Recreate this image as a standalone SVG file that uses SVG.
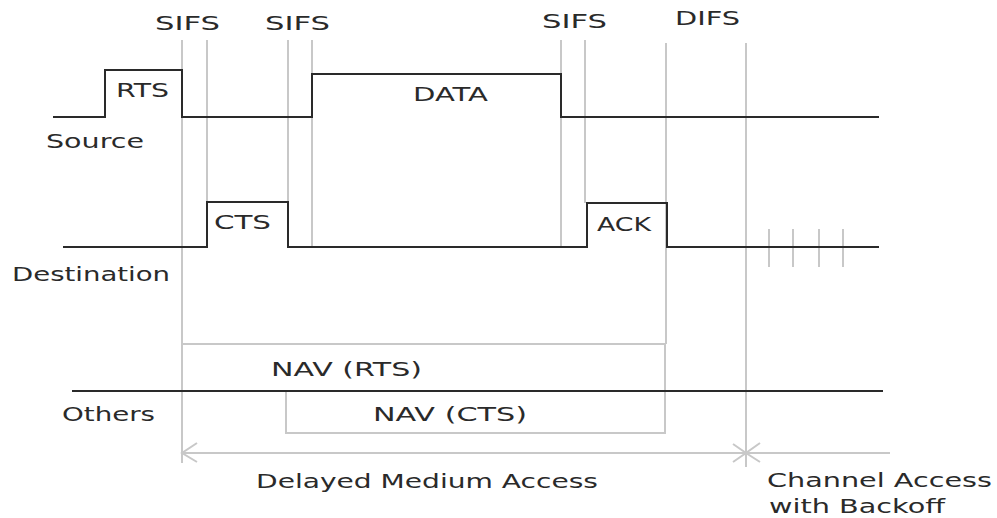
<svg xmlns="http://www.w3.org/2000/svg" width="997" height="518" viewBox="0 0 997 518">
<style>
text{font-family:"DejaVu Sans","Liberation Sans",sans-serif;font-size:20px;fill:#2a2a2a;}
.g{stroke:#c8c8c8;stroke-width:2;fill:none;}
.k{stroke:#2a2a2a;stroke-width:2;fill:none;}
</style>
<rect width="997" height="518" fill="#fff"/>
<g id="connectors">
<path class="g" d="M182,40V463M207,40V202M288,40V202M312,40V247M561,40V247M585,40V203M666,43V344M746,43V467"/>
<path class="g" d="M769,229V267M793,229V267M819,229V267M843,229V267"/>
<path class="g" d="M182,344H665V433H286V391"/>
<path class="g" d="M182,453H890M197,443L182,453L197,462M733,444L746,453L733,462M760,443L746,453L760,462"/>
</g>
<g id="source">
<path class="k" d="M53,117H105V70H182V117H312V74H561V117H879"/>
<text x="46" y="148" textLength="98" lengthAdjust="spacingAndGlyphs">Source</text>
</g>
<g id="destination">
<path class="k" d="M63,247H207V202H288V247H587V203H667V247H879"/>
<text x="12" y="281" textLength="158" lengthAdjust="spacingAndGlyphs">Destination</text>
</g>
<g id="others">
<path class="k" d="M72,391H883"/>
<text x="62" y="421" textLength="93" lengthAdjust="spacingAndGlyphs">Others</text>
</g>
<g id="labels">
<text x="155" y="30" textLength="65" lengthAdjust="spacingAndGlyphs">SIFS</text>
<text x="265" y="30" textLength="65" lengthAdjust="spacingAndGlyphs">SIFS</text>
<text x="542" y="28" textLength="65" lengthAdjust="spacingAndGlyphs">SIFS</text>
<text x="675" y="25" textLength="65" lengthAdjust="spacingAndGlyphs">DIFS</text>
<text x="116" y="97" textLength="53" lengthAdjust="spacingAndGlyphs">RTS</text>
<text x="413" y="101" textLength="75" lengthAdjust="spacingAndGlyphs">DATA</text>
<text x="214" y="229" textLength="57" lengthAdjust="spacingAndGlyphs">CTS</text>
<text x="597" y="231" textLength="54" lengthAdjust="spacingAndGlyphs">ACK</text>
<text x="271" y="376" textLength="151" lengthAdjust="spacingAndGlyphs">NAV (RTS)</text>
<text x="373" y="421" textLength="154" lengthAdjust="spacingAndGlyphs">NAV (CTS)</text>
<text x="256" y="488" textLength="342" lengthAdjust="spacingAndGlyphs">Delayed Medium Access</text>
<text x="767" y="487" textLength="225" lengthAdjust="spacingAndGlyphs">Channel Access</text>
<text x="769" y="513" textLength="176" lengthAdjust="spacingAndGlyphs">with Backoff</text>
</g>
</svg>
